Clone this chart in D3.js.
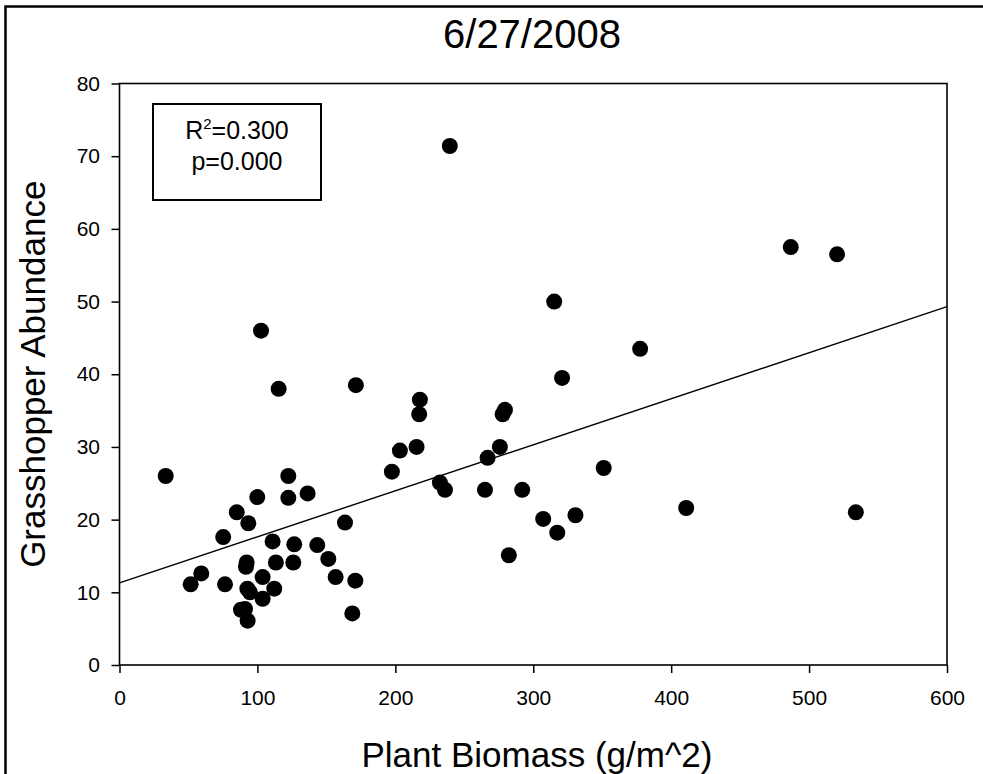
<!DOCTYPE html>
<html>
<head>
<meta charset="utf-8">
<script src="https://cdn.jsdelivr.net/npm/d3@7"></script>
<style>
  html, body { margin: 0; padding: 0; background: #fff; }
  svg { display: block; font-family: "Liberation Sans", Arial, Helvetica, sans-serif; }
</style>
</head>
<body>
<svg id="chart" width="983" height="774"></svg>
<script>
// ---- data ----
const title = "6/27/2008";
const xLabel = "Plant Biomass (g/m^2)";
const yLabel = "Grasshopper Abundance";
const biomass = [33.5, 51.6, 59.3, 75.2, 76.5, 85.0, 93.4, 99.9, 92.2, 91.7,
                 92.7, 94.6, 88.1, 91.0, 92.9, 103.8, 103.8, 111.0, 112.2, 113.4,
                 122.4, 122.4, 126.7, 126.0, 136.4, 143.4, 151.4, 156.7, 163.5, 171.0,
                 168.8, 115.4, 171.4, 102.6, 197.5, 203.3, 215.4, 217.3, 217.8, 239.5,
                 232.3, 236.0, 265.0, 266.9, 275.8, 277.8, 279.5, 282.3, 292.0, 307.2,
                 315.2, 317.4, 320.9, 330.6, 351.1, 377.5, 410.9, 486.7, 520.3, 533.9];
const abundance = [26.0, 11.1, 12.6, 17.6, 11.1, 21.0, 19.5, 23.1, 14.1, 13.5,
                   10.5, 10.0, 7.6, 7.7, 6.1, 12.1, 9.1, 17.0, 10.5, 14.1,
                   26.0, 23.0, 16.6, 14.1, 23.6, 16.5, 14.6, 12.1, 19.6, 11.6,
                   7.1, 38.0, 38.5, 46.0, 26.6, 29.5, 30.0, 34.5, 36.5, 71.4,
                   25.1, 24.1, 24.1, 28.5, 30.0, 34.5, 35.1, 15.1, 24.1, 20.1,
                   50.0, 18.2, 39.5, 20.6, 27.1, 43.5, 21.6, 57.5, 56.5, 21.0];
const fitX = [0, 600];
const fitY = [11.3, 49.3];
const xTicks = [0, 100, 200, 300, 400, 500, 600];
const yTicks = [0, 10, 20, 30, 40, 50, 60, 70, 80];
const statLines = ["0.300", "0.000"];

// ---- layout ----
const svg = d3.select("#chart");
const L = 119.5, R = 947, T = 83.5, B = 665;

const x = d3.scaleLinear().domain([0, 600]).range([L, R]);
const y = d3.scaleLinear().domain([0, 80]).range([B, T]);

// outer frame (extends past right/bottom edges)
svg.append("rect")
  .attr("x", 5.5).attr("y", 6.5).attr("width", 1200).attr("height", 1200)
  .attr("fill", "none").attr("stroke", "#000").attr("stroke-width", 2.5);

// title
svg.append("text")
  .attr("x", 532).attr("y", 47.5).attr("text-anchor", "middle")
  .attr("font-size", 40).attr("fill", "#000").text(title);

// axes
const xAxis = svg.append("g").attr("transform", `translate(0,${B})`)
  .call(d3.axisBottom(x).tickValues(xTicks).tickSize(8).tickPadding(17).tickFormat(d3.format("d")));
xAxis.select(".domain").remove();
xAxis.selectAll("line").attr("stroke", "#000").attr("stroke-width", 1.5);
xAxis.selectAll("text").attr("font-size", 21).attr("fill", "#000").attr("font-family", null);

const yAxis = svg.append("g").attr("transform", `translate(${L},0)`)
  .call(d3.axisLeft(y).tickValues(yTicks).tickSize(8).tickPadding(11.5).tickFormat(d3.format("d")));
yAxis.select(".domain").remove();
yAxis.selectAll("line").attr("stroke", "#000").attr("stroke-width", 1.5);
yAxis.selectAll("text").attr("font-size", 21).attr("fill", "#000").attr("font-family", null);

// plot box
svg.append("rect")
  .attr("x", L).attr("y", T).attr("width", R - L).attr("height", B - T)
  .attr("fill", "none").attr("stroke", "#000").attr("stroke-width", 1.6);

// regression line
svg.append("line")
  .attr("x1", x(fitX[0])).attr("y1", y(fitY[0]))
  .attr("x2", x(fitX[1])).attr("y2", y(fitY[1]))
  .attr("stroke", "#000").attr("stroke-width", 1.4);

// points
const pts = biomass.map((v, i) => ({x: v, y: abundance[i]}));
svg.append("g").selectAll("circle").data(pts).join("circle")
  .attr("cx", d => x(d.x)).attr("cy", d => y(d.y)).attr("r", 8)
  .attr("fill", "#000");

// stats box
svg.append("rect")
  .attr("x", 153).attr("y", 104).attr("width", 168).attr("height", 96)
  .attr("fill", "#fff").attr("stroke", "#000").attr("stroke-width", 2);
const t1 = svg.append("text").attr("x", 237).attr("y", 139)
  .attr("text-anchor", "middle").attr("font-size", 25).attr("fill", "#000");
t1.append("tspan").text("R");
t1.append("tspan").attr("font-size", 15).attr("dy", -10).text("2");
t1.append("tspan").attr("dy", 10).text("=" + statLines[0]);
svg.append("text").attr("x", 237).attr("y", 170)
  .attr("text-anchor", "middle").attr("font-size", 25).attr("fill", "#000")
  .text("p=" + statLines[1]);

// axis labels
svg.append("text")
  .attr("x", 537).attr("y", 767).attr("text-anchor", "middle")
  .attr("font-size", 35).attr("fill", "#000").text(xLabel);
svg.append("text")
  .attr("transform", `translate(45,${(T + B) / 2}) rotate(-90)`)
  .attr("text-anchor", "middle")
  .attr("font-size", 35).attr("fill", "#000").text(yLabel);
</script>
</body>
</html>
